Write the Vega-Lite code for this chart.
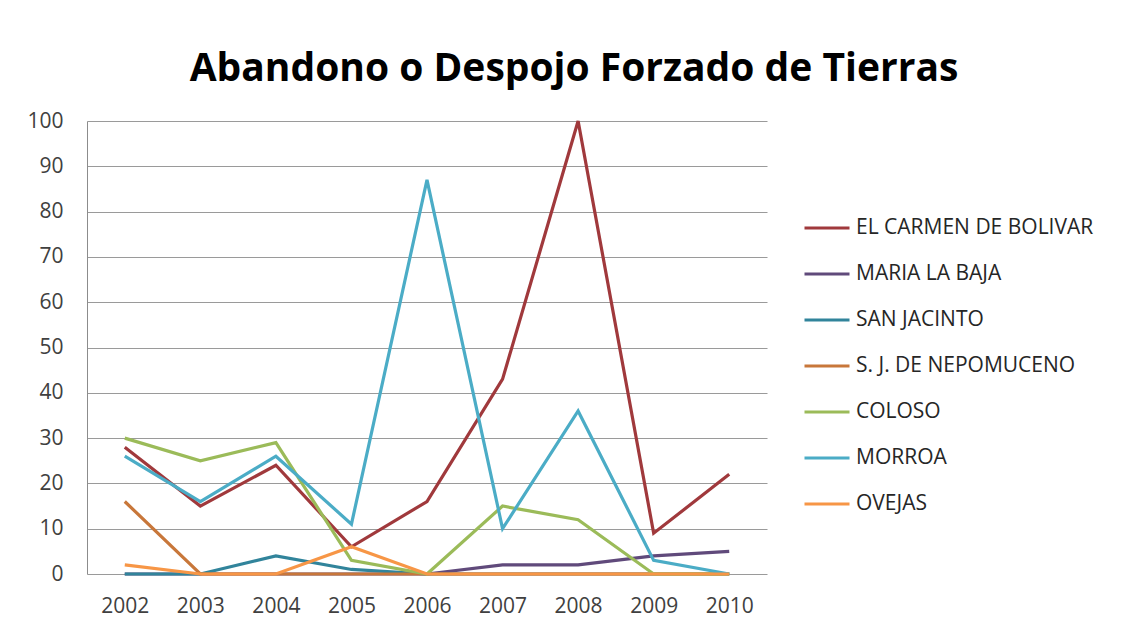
{
  "$schema": "https://vega.github.io/schema/vega-lite/v6.json",
  "autosize": "none",
  "width": 680,
  "height": 453,
  "padding": {"left": 87, "top": 121, "right": 359, "bottom": 59},
  "background": "white",
  "title": {
    "text": "Abandono o Despojo Forzado de Tierras",
    "font": "Open Sans",
    "fontSize": 39,
    "fontWeight": "bold",
    "color": "#000000",
    "anchor": "middle",
    "frame": "group",
    "dx": 147,
    "offset": 21
  },
  "data": {
    "values": [
      {"year": "2002", "s": "EL CARMEN DE BOLIVAR", "v": 28},
      {"year": "2003", "s": "EL CARMEN DE BOLIVAR", "v": 15},
      {"year": "2004", "s": "EL CARMEN DE BOLIVAR", "v": 24},
      {"year": "2005", "s": "EL CARMEN DE BOLIVAR", "v": 6},
      {"year": "2006", "s": "EL CARMEN DE BOLIVAR", "v": 16},
      {"year": "2007", "s": "EL CARMEN DE BOLIVAR", "v": 43},
      {"year": "2008", "s": "EL CARMEN DE BOLIVAR", "v": 100},
      {"year": "2009", "s": "EL CARMEN DE BOLIVAR", "v": 9},
      {"year": "2010", "s": "EL CARMEN DE BOLIVAR", "v": 22},
      {"year": "2002", "s": "MARIA LA BAJA", "v": 0},
      {"year": "2003", "s": "MARIA LA BAJA", "v": 0},
      {"year": "2004", "s": "MARIA LA BAJA", "v": 0},
      {"year": "2005", "s": "MARIA LA BAJA", "v": 0},
      {"year": "2006", "s": "MARIA LA BAJA", "v": 0},
      {"year": "2007", "s": "MARIA LA BAJA", "v": 2},
      {"year": "2008", "s": "MARIA LA BAJA", "v": 2},
      {"year": "2009", "s": "MARIA LA BAJA", "v": 4},
      {"year": "2010", "s": "MARIA LA BAJA", "v": 5},
      {"year": "2002", "s": "SAN JACINTO", "v": 0},
      {"year": "2003", "s": "SAN JACINTO", "v": 0},
      {"year": "2004", "s": "SAN JACINTO", "v": 4},
      {"year": "2005", "s": "SAN JACINTO", "v": 1},
      {"year": "2006", "s": "SAN JACINTO", "v": 0},
      {"year": "2007", "s": "SAN JACINTO", "v": 0},
      {"year": "2008", "s": "SAN JACINTO", "v": 0},
      {"year": "2009", "s": "SAN JACINTO", "v": 0},
      {"year": "2010", "s": "SAN JACINTO", "v": 0},
      {"year": "2002", "s": "S. J. DE NEPOMUCENO", "v": 16},
      {"year": "2003", "s": "S. J. DE NEPOMUCENO", "v": 0},
      {"year": "2004", "s": "S. J. DE NEPOMUCENO", "v": 0},
      {"year": "2005", "s": "S. J. DE NEPOMUCENO", "v": 0},
      {"year": "2006", "s": "S. J. DE NEPOMUCENO", "v": 0},
      {"year": "2007", "s": "S. J. DE NEPOMUCENO", "v": 0},
      {"year": "2008", "s": "S. J. DE NEPOMUCENO", "v": 0},
      {"year": "2009", "s": "S. J. DE NEPOMUCENO", "v": 0},
      {"year": "2010", "s": "S. J. DE NEPOMUCENO", "v": 0},
      {"year": "2002", "s": "COLOSO", "v": 30},
      {"year": "2003", "s": "COLOSO", "v": 25},
      {"year": "2004", "s": "COLOSO", "v": 29},
      {"year": "2005", "s": "COLOSO", "v": 3},
      {"year": "2006", "s": "COLOSO", "v": 0},
      {"year": "2007", "s": "COLOSO", "v": 15},
      {"year": "2008", "s": "COLOSO", "v": 12},
      {"year": "2009", "s": "COLOSO", "v": 0},
      {"year": "2010", "s": "COLOSO", "v": 0},
      {"year": "2002", "s": "MORROA", "v": 26},
      {"year": "2003", "s": "MORROA", "v": 16},
      {"year": "2004", "s": "MORROA", "v": 26},
      {"year": "2005", "s": "MORROA", "v": 11},
      {"year": "2006", "s": "MORROA", "v": 87},
      {"year": "2007", "s": "MORROA", "v": 10},
      {"year": "2008", "s": "MORROA", "v": 36},
      {"year": "2009", "s": "MORROA", "v": 3},
      {"year": "2010", "s": "MORROA", "v": 0},
      {"year": "2002", "s": "OVEJAS", "v": 2},
      {"year": "2003", "s": "OVEJAS", "v": 0},
      {"year": "2004", "s": "OVEJAS", "v": 0},
      {"year": "2005", "s": "OVEJAS", "v": 6},
      {"year": "2006", "s": "OVEJAS", "v": 0},
      {"year": "2007", "s": "OVEJAS", "v": 0},
      {"year": "2008", "s": "OVEJAS", "v": 0},
      {"year": "2009", "s": "OVEJAS", "v": 0},
      {"year": "2010", "s": "OVEJAS", "v": 0}
    ]
  },
  "mark": {"type": "line", "strokeWidth": 3.2, "strokeJoin": "miter"},
  "encoding": {
    "x": {
      "field": "year", "type": "ordinal",
      "scale": {"type": "point", "padding": 0.5},
      "axis": {"title": null, "labelAngle": 0, "domain": false, "ticks": false, "grid": false,
               "labelFont": "Open Sans", "labelFontSize": 21, "labelColor": "#404040", "labelPadding": 21}
    },
    "y": {
      "field": "v", "type": "quantitative",
      "scale": {"domain": [0, 100], "nice": false},
      "axis": {"title": null, "values": [0,10,20,30,40,50,60,70,80,90,100], "ticks": false,
               "domain": true, "domainColor": "#8c8c8c", "grid": true, "gridColor": "#9a9a9a", "gridWidth": 1.2,
               "labelFont": "Open Sans", "labelFontSize": 21, "labelColor": "#404040", "labelPadding": 24}
    },
    "color": {
      "field": "s", "type": "nominal",
      "sort": ["EL CARMEN DE BOLIVAR", "MARIA LA BAJA", "SAN JACINTO", "S. J. DE NEPOMUCENO", "COLOSO", "MORROA", "OVEJAS"],
      "scale": {
        "domain": ["EL CARMEN DE BOLIVAR", "MARIA LA BAJA", "SAN JACINTO", "S. J. DE NEPOMUCENO", "COLOSO", "MORROA", "OVEJAS"],
        "range": ["#A0393C", "#604A7B", "#31849B", "#C8773A", "#9BBB59", "#4BACC6", "#F79646"]
      },
      "legend": {
        "title": null, "orient": "none", "legendX": 716, "legendY": 83,
        "symbolType": "stroke", "symbolSize": 2025, "symbolStrokeWidth": 3,
        "labelFont": "Open Sans", "labelFontSize": 21, "labelColor": "#262626", "labelLimit": 400,
        "rowPadding": 12, "labelOffset": 5
      }
    }
  },
  "config": {"view": {"stroke": null}}
}
